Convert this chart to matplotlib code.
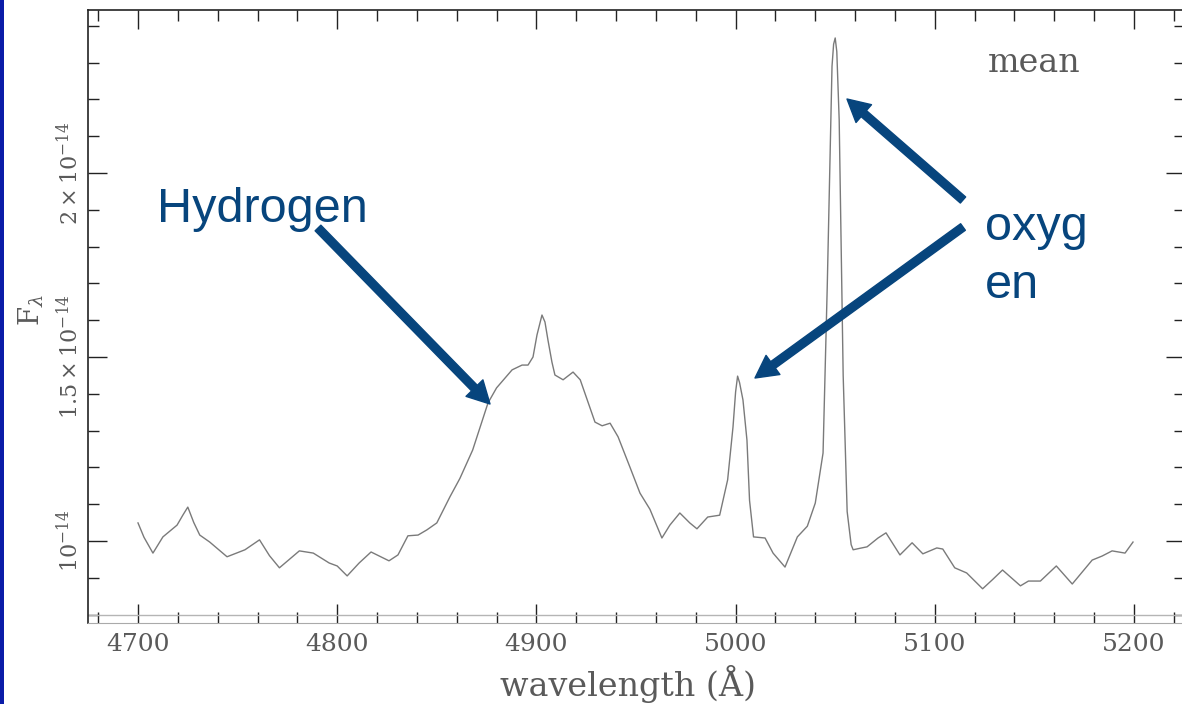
import numpy as np
import matplotlib
matplotlib.use("Agg")
import matplotlib.pyplot as plt
from matplotlib.patches import FancyArrowPatch, Rectangle
from matplotlib.ticker import MultipleLocator, FixedLocator

# spectrum (flux in units of 1e-14)
wave = [4700, 4703, 4707.5, 4712.5, 4719.6, 4722.5, 4725, 4728, 4731, 4736,
        4744.7, 4753.7, 4761, 4766, 4771, 4781, 4788, 4796, 4800, 4805,
        4811, 4817, 4826, 4830.5, 4835.5, 4840.6, 4845, 4850, 4856.6, 4861.6,
        4868, 4875.7, 4880, 4887.8, 4892.8, 4895.8, 4898.3, 4900.3, 4902.8, 4904.3,
        4905.8, 4907.8, 4909.3, 4913.4, 4918.4, 4922, 4929.4, 4933, 4937, 4941,
        4947, 4952, 4957, 4963, 4967, 4972, 4977, 4980.6, 4986, 4992,
        4996, 4998.7, 5000, 5001, 5002, 5003.7, 5005.7, 5007, 5009, 5014.8,
        5018.8, 5024.8, 5031, 5036, 5040, 5043.9, 5046, 5048.4, 5049.2, 5050,
        5050.8, 5052, 5054, 5056, 5058, 5059, 5062.4, 5066, 5071.5, 5075.5,
        5082.5, 5088.6, 5094, 5101, 5104, 5110, 5116, 5124, 5129, 5134,
        5143, 5147, 5153, 5161, 5169, 5179, 5184, 5189, 5195.5, 5199.5]
flux = [1.049, 1.010, 0.967, 1.011, 1.043, 1.070, 1.092, 1.050, 1.016, 0.997,
        0.957, 0.976, 1.003, 0.960, 0.927, 0.973, 0.967, 0.940, 0.932, 0.905,
        0.940, 0.970, 0.946, 0.962, 1.014, 1.016, 1.030, 1.049, 1.120, 1.170,
        1.247, 1.375, 1.416, 1.465, 1.478, 1.478, 1.500, 1.560, 1.614, 1.595,
        1.546, 1.486, 1.451, 1.438, 1.459, 1.438, 1.323, 1.313, 1.320, 1.283,
        1.200, 1.130, 1.086, 1.008, 1.043, 1.076, 1.049, 1.033, 1.065, 1.070,
        1.166, 1.310, 1.405, 1.448, 1.430, 1.383, 1.274, 1.110, 1.011, 1.008,
        0.967, 0.929, 1.011, 1.040, 1.103, 1.239, 1.690, 2.290, 2.350, 2.367,
        2.330, 2.144, 1.450, 1.080, 0.990, 0.976, 0.980, 0.984, 1.008, 1.022,
        0.962, 0.995, 0.965, 0.981, 0.978, 0.927, 0.913, 0.870, 0.895, 0.921,
        0.878, 0.891, 0.891, 0.932, 0.883, 0.948, 0.959, 0.973, 0.967, 0.997]

ytick_vals = [1e-14, 1.5e-14, 2e-14]
ytick_labels = [r"$10^{-14}$", r"$1.5\times10^{-14}$", r"$2\times10^{-14}$"]

BLUE = "#07457d"
GREY = "#5a5a5a"
W, H = 1182, 704


def fpos(x, y):
    # figure pixel (from top-left) -> figure fraction
    return (x / W, 1 - y / H)


def arrow(fig, tail, tip):
    p = FancyArrowPatch(fpos(*tail), fpos(*tip), transform=fig.transFigure,
                        arrowstyle="simple,head_width=17,head_length=16,tail_width=5.8",
                        mutation_scale=1, color=BLUE, shrinkA=0, shrinkB=0)
    fig.add_artist(p)


def main():
    plt.rcParams["mathtext.fontset"] = "dejavuserif"
    plt.rcParams["font.family"] = "DejaVu Serif"

    fig = plt.figure(figsize=(W / 100, H / 100), dpi=100)
    fig.add_artist(Rectangle((0, 0), 4 / W, 1, transform=fig.transFigure,
                             color="#0a1ca8", lw=0))

    ax = fig.add_axes([88 / W, 1 - 623 / H, (1185 - 88) / W, (623 - 10) / H])
    ax.plot(wave, np.array(flux) * 1e-14, color="#7a7a7a", lw=1.0)
    ax.axhline(0.8e-14, color="#b5b5b5", lw=1.0)

    ax.set_xlim(4674.9, 5225.6)
    ax.set_ylim(0.777e-14, 2.443e-14)

    ax.xaxis.set_major_locator(MultipleLocator(100))
    ax.xaxis.set_minor_locator(MultipleLocator(20))
    ax.yaxis.set_major_locator(FixedLocator(ytick_vals))
    ax.yaxis.set_minor_locator(MultipleLocator(0.1e-14))
    ax.set_yticklabels(ytick_labels)

    ax.tick_params(which="both", direction="in", top=True, right=True,
                   colors="#222222", width=1.0, labelcolor=GREY)
    ax.tick_params(which="major", length=14)
    ax.tick_params(which="minor", length=8)
    ax.tick_params(axis="x", labelsize=18, pad=7)
    ax.tick_params(axis="y", labelsize=16, pad=4, labelrotation=90)
    for lab in ax.get_yticklabels():
        lab.set_va("center")

    for s in ["left", "top", "right"]:
        ax.spines[s].set_color("#222222")
        ax.spines[s].set_linewidth(1.2)
    ax.spines["bottom"].set_color("#aaaaaa")

    ax.set_xlabel("wavelength (Å)", fontsize=24, color=GREY)
    ax.xaxis.set_label_coords(0.492, -0.068)
    ax.set_ylabel(r"$\mathrm{F}_{\lambda}$", fontsize=20, color=GREY)
    ax.yaxis.set_label_coords(-0.038, 0.51)

    fig.text(*fpos(1034, 72), "mean", fontsize=24, color=GREY, ha="center", va="baseline")

    fig.text(*fpos(157, 222), "Hydrogen", fontsize=35, family="Liberation Sans",
             color=BLUE, va="baseline")
    fig.text(*fpos(985, 240), "oxyg", fontsize=35, family="Liberation Sans",
             color=BLUE, va="baseline")
    fig.text(*fpos(985, 298), "en", fontsize=35, family="Liberation Sans",
             color=BLUE, va="baseline")

    arrow(fig, (318, 228), (490, 404))
    arrow(fig, (963, 200), (847, 99))
    arrow(fig, (963, 227), (755, 378))

    fig.savefig("out.png", dpi=100)


if __name__ == "__main__":
    main()
